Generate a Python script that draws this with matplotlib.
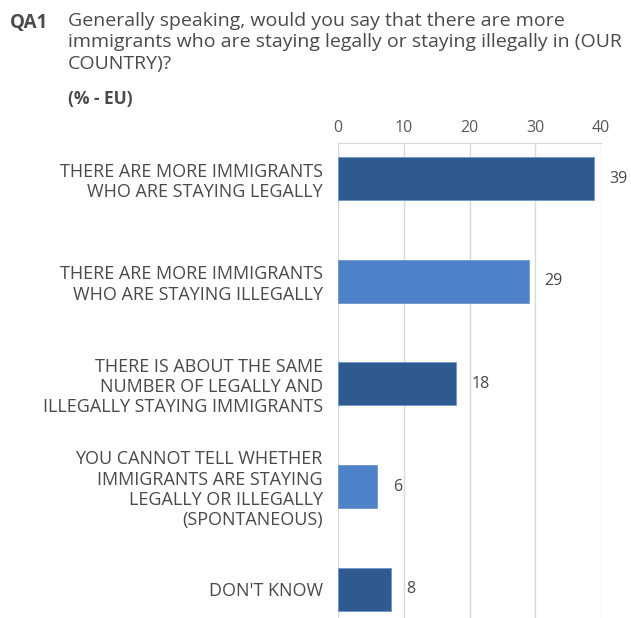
import matplotlib
matplotlib.use("Agg")
import matplotlib.pyplot as plt

plt.rcParams['font.family'] = ['Open Sans', 'DejaVu Sans']

categories = [
    "THERE ARE MORE IMMIGRANTS\nWHO ARE STAYING LEGALLY",
    "THERE ARE MORE IMMIGRANTS\nWHO ARE STAYING ILLEGALLY",
    "THERE IS ABOUT THE SAME\nNUMBER OF LEGALLY AND\nILLEGALLY STAYING IMMIGRANTS",
    "YOU CANNOT TELL WHETHER\nIMMIGRANTS ARE STAYING\nLEGALLY OR ILLEGALLY\n(SPONTANEOUS)",
    "DON'T KNOW",
]
values = [39, 29, 18, 6, 8]
ticks = [0, 10, 20, 30, 40]

dark = "#2F5A8E"
light = "#4F81C8"
colors = [dark, light, dark, light, dark]
txt = "#4a4a4a"

fig = plt.figure(figsize=(6.31, 6.18), dpi=100)
ax = fig.add_axes([0.5357, 0.0, 0.4168, 0.7686])

ypos = list(range(len(values)))
ax.barh(ypos, values, height=0.42, color=colors, edgecolor="#6f95cf", linewidth=0.6, zorder=3)
ax.set_xlim(0, 40)
ax.set_ylim(len(values) - 1 + 0.28, -0.346)

ax.xaxis.tick_top()
ax.set_xticks(ticks)
ax.set_xticklabels([str(t) for t in ticks], fontsize=11.5, color="#595959")
ax.tick_params(axis="x", length=0, pad=5)
ax.set_yticks(ypos)
ax.set_yticklabels(categories, fontsize=13, color=txt, linespacing=1.17)
ax.tick_params(axis="y", length=0, pad=11)
ax.grid(axis="x", color="#d9d9d9", linewidth=1, zorder=0)
for s in ["right", "bottom", "left"]:
    ax.spines[s].set_visible(False)
ax.spines["top"].set_color("#d9d9d9")

for y, v in zip(ypos, values):
    ax.annotate(str(v), (v, y), xytext=(11, 0), textcoords="offset points",
                ha="left", va="center", fontsize=11.5, color=txt)

fig.text(10 / 631, 1 - 23 / 618, "QA1", fontsize=13.5, fontweight="bold", color=txt, va="center")
fig.text(68 / 631, 1 - 12 / 618,
         "Generally speaking, would you say that there are more\n"
         "immigrants who are staying legally or staying illegally in (OUR\n"
         "COUNTRY)?", fontsize=14, color=txt, va="top", linespacing=1.24)
fig.text(68 / 631, 1 - 99 / 618, "(% - EU)", fontsize=12.5, fontweight="bold", color=txt, va="center")

fig.savefig("out.png", dpi=100)
